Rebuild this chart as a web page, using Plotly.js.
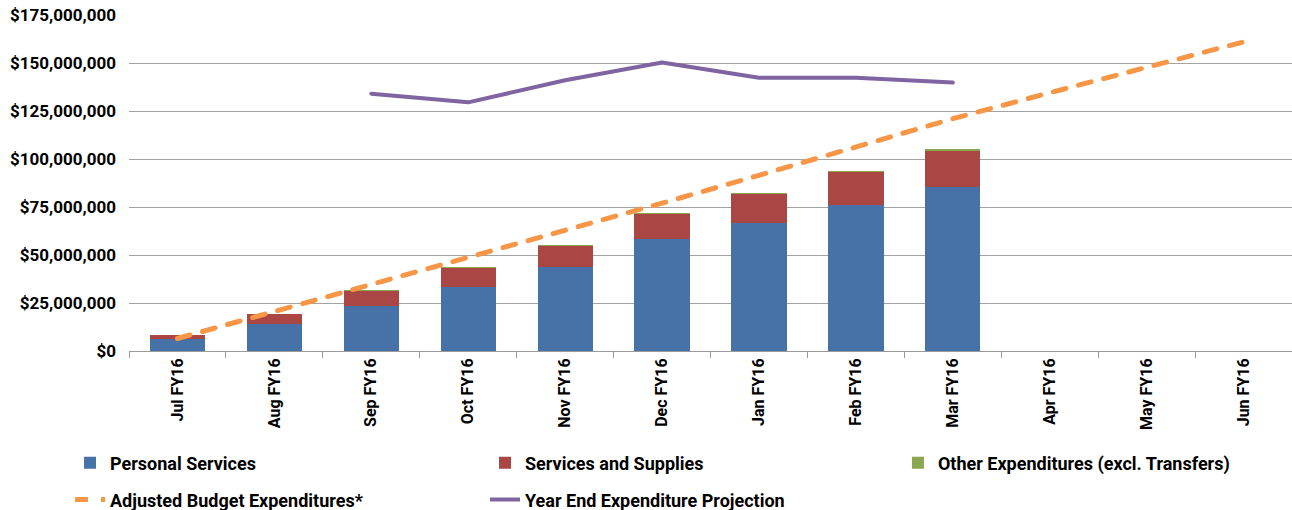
<!DOCTYPE html>
<html><head><meta charset="utf-8">
<script src="https://cdn.plot.ly/plotly-3.0.1.min.js"></script>
<style>html,body{margin:0;padding:0;background:#fff}#chart{width:1292px;height:510px}
.scatterlayer .js-line{stroke-linecap:round;stroke-linejoin:round}</style>
</head><body><div id="chart"></div>
<script>
var months = ['Jul FY16','Aug FY16','Sep FY16','Oct FY16','Nov FY16','Dec FY16','Jan FY16','Feb FY16','Mar FY16','Apr FY16','May FY16','Jun FY16'];
var personalServices = [6500000,14200000,23700000,33400000,43600000,58400000,66900000,76100000,85500000,null,null,null];
var servicesSupplies = [1900000,5000000,7800000,9900000,11300000,12900000,14800000,17000000,18800000,null,null,null];
var otherExpenditures = [100000,100000,200000,300000,400000,500000,500000,700000,700000,null,null,null];
var adjustedBudget = [6500000,20500000,34500000,48500000,62800000,77000000,91500000,106000000,121000000,134500000,148000000,161000000];
var yearEndProjection = [null,null,134000000,129500000,141000000,150300000,142300000,142300000,139800000,null,null,null];

var F = 'Roboto, "Open Sans", sans-serif';
var traces = [
 {type:'bar', name:'Personal Services', x:months, y:personalServices, marker:{color:'#4672A8'}, legend:'legend'},
 {type:'bar', name:'Services and Supplies', x:months, y:servicesSupplies, marker:{color:'#AA4644'}, legend:'legend2'},
 {type:'bar', name:'Other Expenditures (excl. Transfers)', x:months, y:otherExpenditures, marker:{color:'#8AA64F'}, legend:'legend3'},
 {type:'scatter', mode:'lines', name:'Adjusted Budget Expenditures*', x:months, y:adjustedBudget, line:{color:'#F79646', width:5, dash:'13px,13px'}, legend:'legend4'},
 {type:'scatter', mode:'lines', name:'Year End Expenditure Projection', x:months, y:yearEndProjection, line:{color:'#8064A2', width:4}, legend:'legend5'}
];
function leg(x, y) {
  return {orientation:'h', xref:'container', yref:'container', x:x, xanchor:'left', y:y, yanchor:'middle',
          font:{family:F, size:18, color:'#000', weight:'bold'}, bgcolor:'rgba(0,0,0,0)'};
}
var layout = {
 width:1292, height:510,
 margin:{l:129, r:0, t:15, b:159},
 paper_bgcolor:'#fff', plot_bgcolor:'#fff',
 barmode:'stack', bargap:0.43,
 font:{family:F, size:17, color:'#000'},
 xaxis:{type:'category', automargin:false, tickangle:-90, showgrid:false, showline:true, linecolor:'#9a9a9a', linewidth:1,
        ticks:'outside', tickson:'boundaries', ticklen:6, tickcolor:'#9a9a9a',
        tickfont:{family:F, size:16, color:'#000', weight:'bold'}},
 yaxis:{automargin:false, range:[0,175000000], dtick:25000000, tickprefix:'$', tickformat:',d', showgrid:true, gridcolor:'#a3a3a3', gridwidth:1,
        zeroline:false, showline:false, ticks:'', ticklabelstandoff:12,
        tickfont:{family:F, size:17, color:'#000', weight:'bold'}},
 showlegend:true,
 legend: leg(0.0542, 0.092),
 legend2: leg(0.3754, 0.092),
 legend3: leg(0.6950, 0.092),
 legend4: leg(0.0542, 0.02),
 legend5: leg(0.3754, 0.02)
};
Plotly.newPlot('chart', traces, layout, {displayModeBar:false, staticPlot:true});
</script></body></html>
